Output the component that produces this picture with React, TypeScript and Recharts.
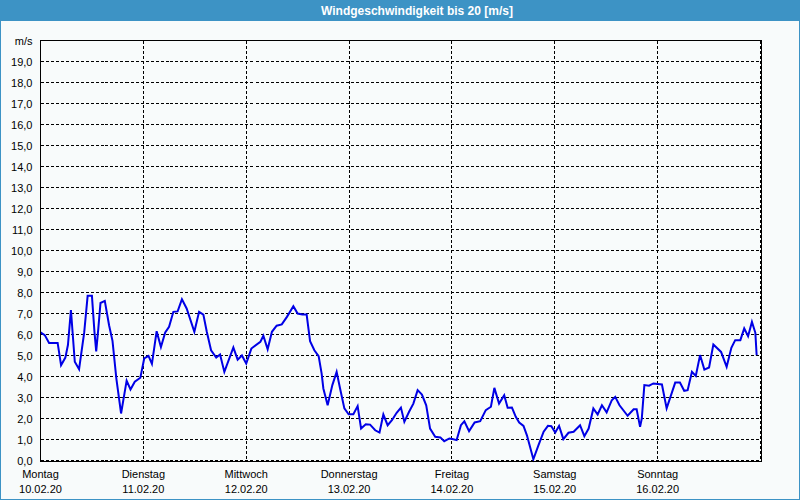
import React from 'react';
import { LineChart, Line, XAxis, YAxis, CartesianGrid } from 'recharts';

// hours since Monday 10.02.20 00:00
const hours = [
  0, 1, 2, 4, 4.8, 5.8, 6.4, 7.1, 8, 9, 10.2, 11, 12, 12.6, 13, 13.5, 14, 15, 16, 16.8, 17.7, 18.8,
  20.1, 21, 22, 23.3, 24.2, 25.2, 26, 27.1, 28.1, 29.1, 30, 31, 32, 33, 34.1, 35.9, 37, 38, 38.8,
  39.8, 41, 41.9, 42.9, 45, 46, 47, 48, 49.2, 51.3, 52, 53, 54, 55.1, 56.3, 57.5, 59, 60, 61.1,
  62.1, 62.9, 63.9, 64.9, 65.6, 66, 67, 68.1, 69.1, 69.9, 70.9, 71.9, 73, 74, 74.8, 75.9, 76.9,
  78.1, 79.1, 80, 81, 82, 83.1, 84.1, 84.9, 86, 87, 88, 89, 90, 90.9, 92.1, 93.3, 94.2, 95.4,
  96.1, 97.1, 98.1, 98.9, 100, 101.3, 102.6, 103.9, 105.1, 105.9, 107, 108.2, 109, 110, 110.9,
  111.7, 112.7, 113.5, 115, 116.2, 117.4, 118.4, 119.2, 120.1, 121, 122, 123.2, 124.4, 125.9,
  126.9, 127.9, 129, 130, 131, 132.1, 133.3, 134.1, 135.1, 137, 138.4, 139.1, 139.9, 140.3,
  140.9, 142, 143, 145, 146.1, 148.1, 149.2, 150.2, 151, 152, 152.9, 153.9, 154.9, 156, 157,
  158.8, 160.1, 161.2, 162.1, 163.3, 164.2, 165.1, 166, 166.8, 167.1,
];

const speeds = [
  6.1, 5.97, 5.6, 5.6, 4.54, 4.9, 5.5, 7.16, 4.7, 4.35, 6.1, 7.84, 7.84, 6.1, 5.2, 6.3, 7.5, 7.6,
  6.44, 5.7, 3.9, 2.24, 3.8, 3.38, 3.75, 3.94, 4.86, 4.98, 4.6, 6.16, 5.4, 6.1, 6.37, 7.08, 7.1,
  7.68, 7.24, 6.13, 7.08, 6.95, 6.13, 5.25, 4.9, 5.05, 4.22, 5.38, 4.8, 5.0, 4.62, 5.33, 5.65,
  5.94, 5.3, 6.13, 6.42, 6.48, 6.84, 7.35, 7.0, 6.95, 6.95, 5.68, 5.25, 4.97, 4.14, 3.43, 2.63,
  3.59, 4.22, 3.43, 2.48, 2.2, 2.2, 2.59, 1.52, 1.73, 1.71, 1.44, 1.33, 2.19, 1.68, 1.92, 2.27,
  2.52, 1.84, 2.32, 2.71, 3.35, 3.14, 2.63, 1.52, 1.13, 1.1, 0.92, 1.05, 1.02, 0.97, 1.68, 1.87,
  1.4, 1.81, 1.87, 2.4, 2.56, 3.46, 2.71, 3.11, 2.51, 2.52, 2.08, 1.81, 1.65, 1.2, 0.06, 0.73,
  1.37, 1.65, 1.63, 1.33, 1.65, 1.02, 1.32, 1.37, 1.68, 1.16, 1.52, 2.48, 2.19, 2.63, 2.29, 2.87,
  3.03, 2.63, 2.13, 2.44, 2.44, 1.6, 2.0, 3.59, 3.56, 3.67, 3.62, 2.48, 3.71, 3.71, 3.32, 3.35,
  4.22, 4.03, 5.02, 4.33, 4.43, 5.52, 5.17, 4.46, 5.37, 5.73, 5.73, 6.29, 5.92, 6.6, 6.08, 5.02,
];

const dayTicks = [0, 24, 48, 72, 96, 120, 144];
const dayNames = ['Montag', 'Dienstag', 'Mittwoch', 'Donnerstag', 'Freitag', 'Samstag', 'Sonntag'];
const dayDates = ['10.02.20', '11.02.20', '12.02.20', '13.02.20', '14.02.20', '15.02.20', '16.02.20'];
const yTicks = [0, 1, 2, 3, 4, 5, 6, 7, 8, 9, 10, 11, 12, 13, 14, 15, 16, 17, 18, 19, 20];
const title = 'Windgeschwindigkeit bis 20 [m/s]';
const unit = 'm/s';

const data = hours.map((h, i) => ({ h, v: speeds[i] }));

const FONT = '"Liberation Sans", Arial, sans-serif';

const XTick = (props: any) => {
  const { x, y, payload } = props;
  const i = dayTicks.indexOf(payload.value);
  if (i < 0) return null;
  return (
    <g>
      <text x={x} y={y + 9} textAnchor="middle" fontSize={11} fontFamily={FONT} fill="#000">
        {dayNames[i]}
      </text>
      <text x={x} y={y + 24} textAnchor="middle" fontSize={11} fontFamily={FONT} fill="#000">
        {dayDates[i]}
      </text>
    </g>
  );
};

const YTick = (props: any) => {
  const { x, y, payload } = props;
  const label = payload.value === 20 ? unit : payload.value.toFixed(1).replace('.', ',');
  return (
    <text x={x} y={y + 4} textAnchor="end" fontSize={11} fontFamily={FONT} fill="#000">
      {label}
    </text>
  );
};

export default function App() {
  return (
    <div
      style={{
        position: 'absolute',
        left: 0,
        top: 0,
        width: 800,
        height: 500,
        background: '#f8fbfb',
        boxSizing: 'border-box',
        border: '1px solid #3d93c5',
        overflow: 'hidden',
      }}
    >
      <div
        style={{
          position: 'absolute',
          left: 0,
          top: 0,
          width: 800,
          height: 20,
          background: '#3d93c5',
          color: '#fff',
          fontFamily: FONT,
          fontWeight: 'bold',
          fontSize: 12,
          lineHeight: '20px',
        }}
      >
        <span style={{ position: 'absolute', left: 320, top: 0 }}>{title}</span>
      </div>
      <div style={{ position: 'absolute', left: -1, top: -1 }}>
        <LineChart
          width={800}
          height={500}
          data={data}
          margin={{ top: 40.5, right: 39.5, bottom: 0, left: 0 }}
        >
          <CartesianGrid stroke="#000" strokeDasharray="3 2" shapeRendering="crispEdges" />
          <XAxis
            dataKey="h"
            type="number"
            domain={[0, 168]}
            ticks={dayTicks}
            interval={0}
            height={39.5}
            axisLine={false}
            tickLine={false}
            tick={<XTick />}
          />
          <YAxis
            type="number"
            domain={[0, 20]}
            ticks={yTicks}
            interval={0}
            width={40.5}
            axisLine={false}
            tickLine={false}
            tick={<YTick />}
          />
          <Line
            dataKey="v"
            type="linear"
            stroke="#0000e6"
            strokeWidth={2}
            dot={false}
            isAnimationActive={false}
          />
        </LineChart>
      </div>
      <div
        style={{
          position: 'absolute',
          left: 39,
          top: 39,
          width: 722,
          height: 422,
          boxSizing: 'border-box',
          border: '1px solid #000',
          pointerEvents: 'none',
        }}
      />
    </div>
  );
}
